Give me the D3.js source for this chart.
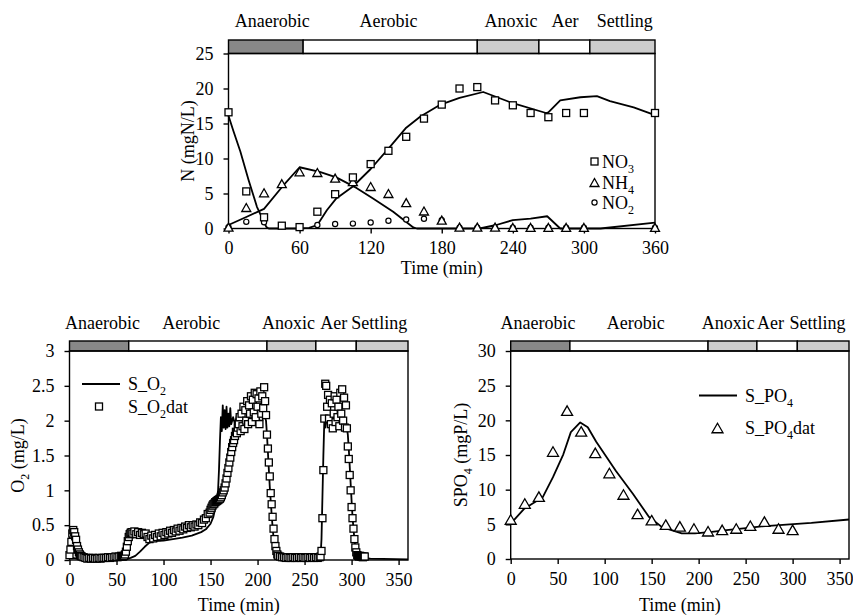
<!DOCTYPE html>
<html><head><meta charset="utf-8">
<script src="https://cdn.jsdelivr.net/npm/d3@7"></script>
<style>
body{margin:0;background:#fff;}
svg text{font-family:'Liberation Serif','Times New Roman',serif;fill:#000;}
</style></head><body>
<svg id="c" width="853" height="615" xmlns="http://www.w3.org/2000/svg"></svg>
<script>
// ---------------- DATA ----------------
const phaseNames = ["Anaerobic", "Aerobic", "Anoxic", "Aer", "Settling"];
const phaseStart = [0, 63, 210, 262, 305];
const phaseEnd   = [63, 210, 262, 305, 360];

// Top chart (N species)
const nTime  = [0,15,30,45,60,75,90,105,120,135,150,165,180,195,210,225,240,255,270,285,300,360];
const no3Obs = [16.6,5.3,1.6,0.4,0.2,2.4,4.9,7.3,9.2,11.1,13.1,15.7,17.7,20.0,20.2,18.3,17.6,16.5,15.9,16.5,16.5,16.5];
const nh4Obs = [0.2,3.0,5.1,6.4,8.1,8.0,7.2,6.7,6.0,5.0,3.7,2.5,1.2,0.2,0.2,0.2,0.15,0.15,0.15,0.15,0.15,0.15];
const no2Obs = [0.2,0.95,0.9,0.35,0.15,0.5,0.65,0.7,0.85,1.1,1.3,1.4,1.2,0.1,0.1,0.1,0.1,0.1,0.1,0.1,0.1,0.1];
const no3ModT = [0,4,10,17,24,32,34,60,68,75,83,91,105,120,135,150,162,179,195,215,240,268,270,280,297,311,322,342,360];
const no3ModV = [16.1,14,11,6.9,3.1,0.2,0,0,0.1,0.5,2.6,4.3,6.0,8.5,11.4,14.4,16.0,17.7,18.65,19.5,17.9,16.5,16.6,18.3,18.75,18.9,18.2,17.3,16.2];
const nh4ModT = [0,15,30,45,60,77,91,108,122,139,156,159,212,226,240,255,269,280,314,360];
const nh4ModV = [0.5,1.65,2.8,5.9,8.75,8.1,7.3,5.8,4.3,2.4,0.15,0,0,0.5,1.2,1.4,1.75,0,0,0.85];
const nXTicks = [0,60,120,180,240,300,360];
const nYTicks = [0,5,10,15,20,25];

// Bottom-left chart (O2)
const o2DatT = [0,1,2,3,4,5,6,7,8,9,10,11,12,13,
  15,17,19,21,23,25,27,29,31,33,35,37,39,41,43,45,47,49,51,53,55,
  56,57,58,59,60,61,62,63,64,65,66,
  67,69,71,73,75,77,79,81,83,85,87,89,91,93,95,97,99,101,103,105,107,109,111,113,115,117,119,121,123,125,127,129,131,133,135,137,139,141,143,145,147,149,
  150,151,152,153,154,155,156,157,158,159,160,161,162,163,164,165,166,167,168,169,170,171,172,173,174,175,176,177,178,179,180,
  181,182,183,184,185,186,187,188,189,190,191,192,193,194,195,196,197,198,199,200,201,202,203,204,205,206,207,208,209,210,
  211,212,213,214,215,216,217,218,219,220,221,222,
  224,226,228,230,232,234,236,238,240,242,244,246,248,250,252,254,256,258,260,262,264,266,
  267,268,269,270,271,272,
  273,274,275,276,277,278,279,280,281,282,283,284,285,286,287,288,289,290,291,292,293,294,295,
  296,297,298,299,300,301,302,303,304,305,306,307,308,309,310,311,312,313,314];
const o2DatV = [0.07,0.15,0.26,0.38,0.43,0.40,0.34,0.29,0.20,0.15,0.11,0.08,0.06,0.05,
  0.04,0.03,0.02,0.03,0.02,0.03,0.02,0.02,0.03,0.02,0.03,0.03,0.03,0.04,0.03,0.04,0.04,0.05,0.04,0.05,0.06,
  0.05,0.05,0.06,0.08,0.12,0.19,0.27,0.33,0.37,0.39,0.40,
  0.38,0.41,0.37,0.40,0.36,0.39,0.37,0.38,0.33,0.30,0.35,0.31,0.36,0.33,0.38,0.34,0.39,0.36,0.40,0.38,0.42,0.39,0.43,0.41,0.45,0.42,0.46,0.44,0.48,0.46,0.50,0.47,0.50,0.48,0.51,0.50,0.54,0.53,0.58,0.60,0.66,0.68,
  0.72,0.75,0.78,0.80,0.81,0.83,0.84,0.85,0.86,0.87,0.88,0.90,0.93,0.97,1.00,1.04,1.10,1.17,1.25,1.32,1.40,1.47,1.55,1.62,1.68,1.72,1.78,1.84,1.82,1.90,1.95,
  2.05,1.85,2.10,1.92,2.20,1.88,2.15,2.00,2.28,1.95,2.22,2.10,2.35,1.98,2.30,2.12,2.40,2.05,2.38,2.20,2.32,1.95,2.42,2.10,2.35,2.18,2.48,2.28,2.08,1.80,
  1.60,1.40,1.20,0.96,0.80,0.62,0.45,0.30,0.20,0.13,0.08,0.06,
  0.05,0.04,0.04,0.03,0.04,0.03,0.03,0.04,0.03,0.03,0.04,0.03,0.04,0.03,0.03,0.04,0.03,0.04,0.03,0.04,0.03,0.04,
  0.05,0.13,0.60,1.29,2.03,2.53,
  2.50,2.20,2.37,2.03,2.30,1.95,2.25,1.89,2.10,2.35,1.98,2.30,2.05,2.20,1.92,2.40,2.10,2.45,2.00,2.33,1.90,2.22,1.89,
  1.63,1.45,1.22,1.00,0.76,0.60,0.45,0.30,0.18,0.11,0.07,0.06,0.05,0.06,0.05,0.05,0.04,0.05,0.05];
const o2ModT = [0,3,8,15,40,60,65,70,75,80,85,90,100,110,120,130,140,145,150,153,156,158,159,160,161,162,163,164,165,166,167,168,169,170,171,172,174,176,178,180,183,186,189,192,195,198,201,204,207,209,210,211,212,213,214,215,216,217,218,219,220,222,230,260,267,268,269,270,271,272,274,276,278,280,282,284,286,288,290,292,294,296,297,298,299,300,301,302,303,304,305,307,310,320,360];
const o2ModV = [0.05,0.03,0.02,0.01,0.01,0.01,0.03,0.06,0.12,0.19,0.25,0.27,0.28,0.30,0.32,0.35,0.40,0.44,0.52,0.62,0.80,1.00,1.30,1.70,2.05,1.85,2.22,1.90,2.15,1.88,2.20,1.90,2.10,1.92,2.18,1.95,2.05,1.95,2.08,1.98,2.06,1.96,2.05,1.95,2.08,1.97,2.05,1.95,2.10,2.00,1.80,1.55,1.30,1.05,0.85,0.65,0.47,0.32,0.20,0.12,0.07,0.04,0.03,0.03,0.05,0.30,0.90,1.50,2.00,1.90,2.05,1.95,2.08,1.93,2.05,1.97,2.10,1.95,2.05,1.95,2.00,1.80,1.60,1.35,1.10,0.85,0.62,0.45,0.30,0.18,0.10,0.05,0.03,0.02,0.01];
const o2XTicks = [0,50,100,150,200,250,300,350];
const o2YTicks = [0,0.5,1,1.5,2,2.5,3];

// Bottom-right chart (PO4)
const poTime = [0,15,30,45,60,75,90,105,120,135,150,165,180,195,210,225,240,255,270,285,300];
const poObs  = [5.7,8.0,9.0,15.5,21.4,18.4,15.3,12.4,9.3,6.5,5.6,4.95,4.7,4.4,4.0,4.2,4.4,4.8,5.4,4.4,4.2];
const poModT = [0,14,34,45,56,64,74,82,91,112,130,147,161,182,196,214,232,253,267,297,320,360];
const poModV = [5.1,7.2,8.9,11.8,15.1,18.3,19.7,19.0,16.9,12.7,9.4,6.1,4.6,3.7,3.7,3.9,4.2,4.5,4.7,5.0,5.2,5.7];
const poXTicks = [0,50,100,150,200,250,300,350];
const poYTicks = [0,5,10,15,20,25,30];

// ---------------- DRAWING ----------------
const svg = d3.select('#c');
const FONT = "'Liberation Serif','Times New Roman',serif";
const phaseFill = ['#888888', '#ffffff', '#cccccc', '#ffffff', '#cccccc'];

function chart(cfg) {
  const x = d3.scaleLinear().domain([0, 360]).range([cfg.left, cfg.right]);
  const y = d3.scaleLinear().domain(cfg.yDomain).range([cfg.bottom, cfg.top]);
  const g = svg.append('g');
  // phase bar
  phaseStart.forEach((s, i) => {
    g.append('rect').attr('x', x(s)).attr('y', cfg.barTop)
      .attr('width', x(phaseEnd[i]) - x(s)).attr('height', cfg.top - cfg.barTop)
      .attr('fill', phaseFill[i]).attr('stroke', '#000').attr('stroke-width', 1.4);
  });
  phaseNames.forEach((n, i) => {
    g.append('text').attr('x', x(cfg.labelT[i])).attr('y', cfg.labelY)
      .attr('text-anchor', 'middle').attr('font-size', 18).text(n);
  });
  // axes
  const xa = g.append('g').attr('transform', `translate(0,${cfg.bottom})`)
    .call(d3.axisBottom(x).tickValues(cfg.xTicks).tickSize(5).tickPadding(8).tickFormat(d3.format('d')));
  const ya = g.append('g').attr('transform', `translate(${cfg.left},0)`)
    .call(d3.axisLeft(y).tickValues(cfg.yTicks).tickSize(5).tickPadding(10).tickFormat(d => String(d)));
  [xa, ya].forEach(a => {
    a.attr('font-family', FONT).attr('font-size', 18);
    a.select('.domain').remove();
    a.selectAll('line').attr('stroke', '#000').attr('stroke-width', 1.4);
    a.selectAll('text').attr('fill', '#000');
  });
  // frame
  g.append('rect').attr('x', cfg.left).attr('y', cfg.top)
    .attr('width', cfg.right - cfg.left).attr('height', cfg.bottom - cfg.top)
    .attr('fill', 'none').attr('stroke', '#000').attr('stroke-width', 1.4);
  // x title
  g.append('text').attr('x', (cfg.left + cfg.right) / 2).attr('y', cfg.xTitleY)
    .attr('text-anchor', 'middle').attr('font-size', 18).text('Time (min)');
  // y title
  const yt = g.append('text').attr('transform', `translate(${cfg.yTitleX},${(cfg.top + cfg.bottom) / 2}) rotate(-90)`)
    .attr('text-anchor', 'middle').attr('font-size', 18);
  cfg.yTitle.forEach(p => {
    const t = yt.append('tspan').text(p[0]);
    if (p[1]) t.attr('font-size', 12).attr('dy', 5);
    else if (p[2]) t.attr('dy', -5);
  });
  return { x, y, g };
}

function lineOf(g, x, y, ts, vs, w) {
  const pts = ts.map((t, i) => [t, vs[i]]).filter(p => p[1] !== undefined);
  g.append('path').datum(pts)
    .attr('d', d3.line().x(d => x(d[0])).y(d => y(d[1])))
    .attr('fill', 'none').attr('stroke', '#000').attr('stroke-width', w || 1.8)
    .attr('stroke-linejoin', 'round');
}
function squares(g, x, y, ts, vs, s) {
  const pts = ts.map((t, i) => [t, vs[i]]).filter(p => p[1] !== undefined);
  g.selectAll(null).data(pts).enter().append('rect')
    .attr('x', d => x(d[0]) - s / 2).attr('y', d => y(d[1]) - s / 2)
    .attr('width', s).attr('height', s)
    .attr('fill', '#fff').attr('stroke', '#000').attr('stroke-width', 1.3);
}
function triPath(w, h) { return `M0,${-h / 2}L${w / 2},${h / 2}L${-w / 2},${h / 2}Z`; }
function triangles(g, x, y, ts, vs, w, h) {
  const pts = ts.map((t, i) => [t, vs[i]]);
  g.selectAll(null).data(pts).enter().append('path')
    .attr('transform', d => `translate(${x(d[0])},${y(d[1])})`)
    .attr('d', triPath(w, h))
    .attr('fill', '#fff').attr('stroke', '#000').attr('stroke-width', 1.3);
}
function circles(g, x, y, ts, vs, r) {
  const pts = ts.map((t, i) => [t, vs[i]]);
  g.selectAll(null).data(pts).enter().append('circle')
    .attr('cx', d => x(d[0])).attr('cy', d => y(d[1])).attr('r', r)
    .attr('fill', '#fff').attr('stroke', '#000').attr('stroke-width', 1.2);
}

// ---- Top chart ----
{
  const { x, y, g } = chart({
    left: 228.5, right: 655, top: 53.5, bottom: 228.5, barTop: 40,
    yDomain: [0, 25], xTicks: nXTicks, yTicks: nYTicks,
    labelT: [37, 135, 238.5, 284, 334.5], labelY: 26.5,
    xTitleY: 274, yTitleX: 194,
    yTitle: [['N (mgN/L)']]
  });
  lineOf(g, x, y, no3ModT, no3ModV, 1.8);
  lineOf(g, x, y, nh4ModT, nh4ModV, 1.8);
  circles(g, x, y, nTime, no2Obs, 2.6);
  triangles(g, x, y, nTime, nh4Obs, 9, 8);
  squares(g, x, y, nTime, no3Obs, 7);
  // legend
  const lg = g.append('g');
  const rows = [['NO', '3', 161.5], ['NH', '4', 182.5], ['NO', '2', 202.5]];
  lg.append('rect').attr('x', 591).attr('y', rows[0][2] - 3.5).attr('width', 7).attr('height', 7)
    .attr('fill', '#fff').attr('stroke', '#000').attr('stroke-width', 1.3);
  lg.append('path').attr('transform', `translate(594.5,${rows[1][2]})`).attr('d', triPath(9, 8))
    .attr('fill', '#fff').attr('stroke', '#000').attr('stroke-width', 1.3);
  lg.append('circle').attr('cx', 594.5).attr('cy', rows[2][2]).attr('r', 2.6)
    .attr('fill', '#fff').attr('stroke', '#000').attr('stroke-width', 1.2);
  rows.forEach(r => {
    const t = lg.append('text').attr('x', 602).attr('y', r[2] + 6).attr('font-size', 18);
    t.append('tspan').text(r[0]);
    t.append('tspan').attr('font-size', 12).attr('dy', 5).text(r[1]);
  });
}

// ---- Bottom-left chart (O2) ----
{
  const { x, y, g } = chart({
    left: 69.5, right: 408, top: 351, bottom: 560, barTop: 341,
    yDomain: [0, 3], xTicks: o2XTicks, yTicks: o2YTicks,
    labelT: [35, 129.5, 233, 281, 329.5], labelY: 329,
    xTitleY: 611, yTitleX: 24,
    yTitle: [['O'], ['2', true], [' (mg/L)', false, true]]
  });
  lineOf(g, x, y, o2ModT, o2ModV, 1.8);
  squares(g, x, y, o2DatT, o2DatV, 7);
  const lg = g.append('g');
  lg.append('line').attr('x1', 82).attr('x2', 120).attr('y1', 384).attr('y2', 384)
    .attr('stroke', '#000').attr('stroke-width', 1.8);
  lg.append('rect').attr('x', 95.5).attr('y', 403).attr('width', 7).attr('height', 7)
    .attr('fill', '#fff').attr('stroke', '#000').attr('stroke-width', 1.3);
  [['S_O', '2', '', 390], ['S_O', '2', 'dat', 412.5]].forEach(r => {
    const t = lg.append('text').attr('x', 128).attr('y', r[3]).attr('font-size', 18);
    t.append('tspan').text(r[0]);
    t.append('tspan').attr('font-size', 12).attr('dy', 5).text(r[1]);
    if (r[2]) t.append('tspan').attr('dy', -5).text(r[2]);
  });
}

// ---- Bottom-right chart (PO4) ----
{
  const { x, y, g } = chart({
    left: 510.7, right: 849, top: 351, bottom: 559, barTop: 341,
    yDomain: [0, 30], xTicks: poXTicks, yTicks: poYTicks,
    labelT: [29, 133, 231.4, 276.5, 326.5], labelY: 329,
    xTitleY: 611, yTitleX: 467,
    yTitle: [['SPO'], ['4', true], [' (mgP/L)', false, true]]
  });
  lineOf(g, x, y, poModT, poModV, 1.8);
  triangles(g, x, y, poTime, poObs, 11, 9.5);
  const lg = g.append('g');
  lg.append('line').attr('x1', 699).attr('x2', 737).attr('y1', 395.5).attr('y2', 395.5)
    .attr('stroke', '#000').attr('stroke-width', 1.8);
  lg.append('path').attr('transform', 'translate(717.5,428)').attr('d', triPath(11, 9.5))
    .attr('fill', '#fff').attr('stroke', '#000').attr('stroke-width', 1.3);
  [['S_PO', '4', '', 401.5], ['S_PO', '4', 'dat', 434]].forEach(r => {
    const t = lg.append('text').attr('x', 745).attr('y', r[3]).attr('font-size', 18);
    t.append('tspan').text(r[0]);
    t.append('tspan').attr('font-size', 12).attr('dy', 5).text(r[1]);
    if (r[2]) t.append('tspan').attr('dy', -5).text(r[2]);
  });
}
</script>
</body></html>
